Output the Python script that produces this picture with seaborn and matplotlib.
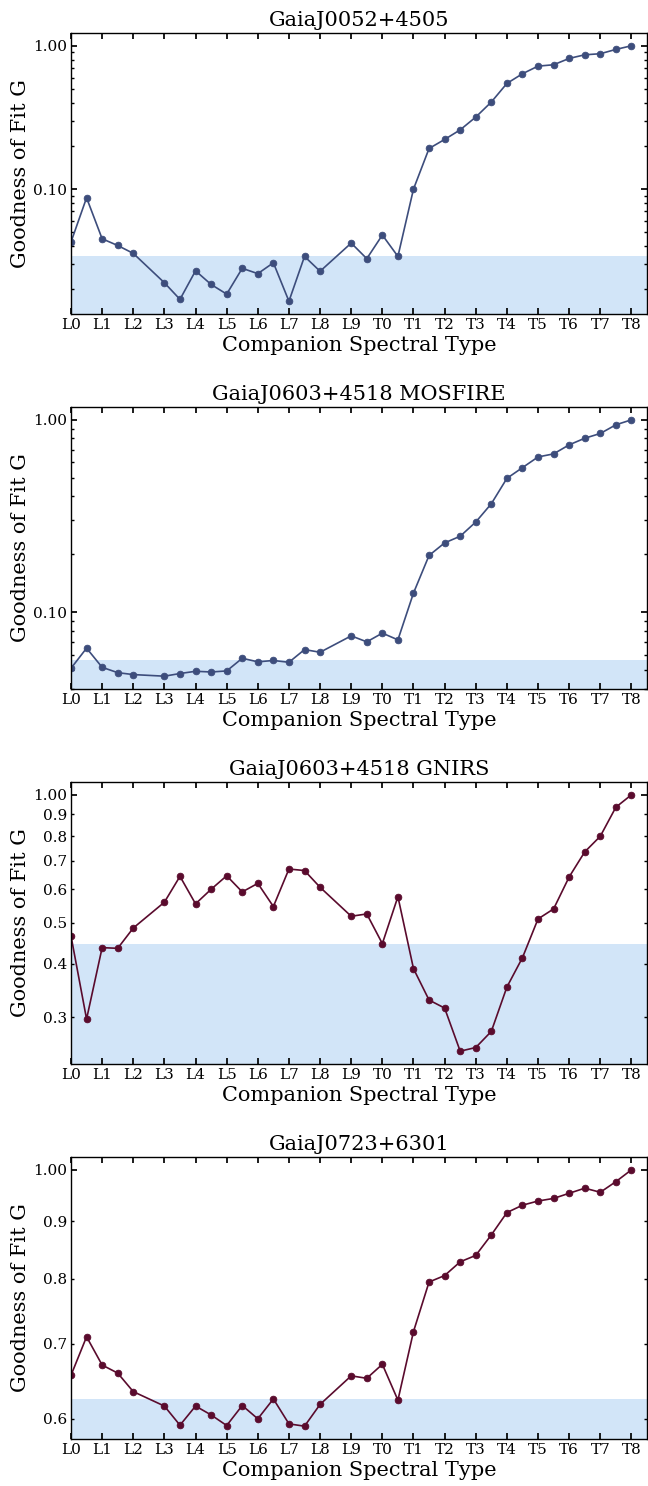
import numpy as np
import pandas as pd
import matplotlib
matplotlib.use("Agg")
import matplotlib.pyplot as plt
import matplotlib.ticker as mticker
import seaborn as sns

# ---------------- data ----------------
spt_num = [0, 0.5, 1, 1.5, 2, 3, 3.5, 4, 4.5, 5, 5.5, 6, 6.5, 7, 7.5, 8,
           9, 9.5, 10, 10.5, 11, 11.5, 12, 12.5, 13, 13.5, 14, 14.5, 15,
           15.5, 16, 16.5, 17, 17.5, 18]
tick_labels = ["L0", "L1", "L2", "L3", "L4", "L5", "L6", "L7", "L8", "L9",
               "T0", "T1", "T2", "T3", "T4", "T5", "T6", "T7", "T8"]

titles = ["GaiaJ0052+4505", "GaiaJ0603+4518 MOSFIRE",
          "GaiaJ0603+4518 GNIRS", "GaiaJ0723+6301"]

g_j0052 = [0.0427, 0.0870, 0.0450, 0.0404, 0.0356, 0.0222, 0.0170, 0.0269,
           0.0216, 0.0185, 0.0280, 0.0257, 0.0306, 0.0165, 0.0339, 0.0267,
           0.0420, 0.0327, 0.0478, 0.0339, 0.100, 0.192, 0.222, 0.259,
           0.318, 0.405, 0.546, 0.638, 0.721, 0.737, 0.816, 0.865, 0.880,
           0.943, 1.00]
g_j0603_mos = [0.0510, 0.0649, 0.0516, 0.0484, 0.0473, 0.0464, 0.0479,
               0.0492, 0.0488, 0.0494, 0.0575, 0.0551, 0.0560, 0.0548,
               0.0638, 0.0618, 0.0752, 0.0700, 0.0777, 0.0717, 0.1256,
               0.197, 0.229, 0.248, 0.294, 0.366, 0.496, 0.564, 0.641,
               0.665, 0.741, 0.802, 0.849, 0.942, 1.00]
g_j0603_gnirs = [0.4655, 0.2968, 0.437, 0.4354, 0.486, 0.559, 0.643, 0.554,
                 0.5995, 0.645, 0.591, 0.619, 0.546, 0.669, 0.6635, 0.606,
                 0.518, 0.5245, 0.4466, 0.576, 0.390, 0.329, 0.315, 0.2494,
                 0.2544, 0.2776, 0.353, 0.4139, 0.5105, 0.539, 0.641, 0.734,
                 0.799, 0.935, 1.00]
g_j0723 = [0.656, 0.710, 0.670, 0.659, 0.6344, 0.6159, 0.5922, 0.6159,
           0.6048, 0.5918, 0.6166, 0.600, 0.625, 0.5938, 0.591, 0.618,
           0.6553, 0.652, 0.671, 0.6234, 0.7176, 0.7944, 0.805, 0.828,
           0.839, 0.875, 0.916, 0.930, 0.938, 0.943, 0.953, 0.963, 0.955,
           0.976, 1.00]

series = [g_j0052, g_j0603_mos, g_j0603_gnirs, g_j0723]
thresholds = [0.0339, 0.0560, 0.4466, 0.6255]
colors = ["#3d4d7c", "#3d4d7c", "#5a0b2d", "#5a0b2d"]
label_minor = [False, False, True, True]

# ---------------- style ----------------
sns.set_theme(style="ticks")
plt.rcParams["font.family"] = ["DejaVu Serif"]
plt.rcParams.update({
    "xtick.direction": "in", "ytick.direction": "in",
    "xtick.top": True, "ytick.right": True,
    "axes.linewidth": 1.0,
    "xtick.major.size": 4, "ytick.major.size": 4, "ytick.minor.size": 2.5,
    "xtick.labelsize": 11, "ytick.labelsize": 11,
    "axes.edgecolor": "black",
    "xtick.color": "black", "ytick.color": "black",
    "text.color": "black", "axes.labelcolor": "black",
})

W, H = 648, 1486
fig = plt.figure(figsize=(W / 100, H / 100), dpi=100)

panel_px = [(33, 314), (407, 689), (782, 1064), (1157, 1439)]
left_px, right_px = 71, 647

for i in range(4):
    top, bot = panel_px[i]
    ax = fig.add_axes([left_px / W, 1 - bot / H, (right_px - left_px) / W,
                       (bot - top) / H])
    df = pd.DataFrame({"spt": spt_num, "G": series[i]})
    sns.lineplot(data=df, x="spt", y="G", ax=ax, color=colors[i],
                 marker="o", markersize=4.8, linewidth=1.2,
                 markeredgecolor=colors[i], markeredgewidth=0.6)
    ax.set_yscale("log")
    ax.autoscale_view()
    ylo, yhi = ax.get_ylim()
    ax.axhspan(ylo * 0.5, thresholds[i], color="#d2e5f8", zorder=0, lw=0)
    ax.set_ylim(ylo, yhi)
    ax.set_xlim(0, 18.5)

    ax.xaxis.set_major_locator(mticker.FixedLocator(list(range(19))))
    ax.set_xticklabels(tick_labels)
    ax.xaxis.set_minor_locator(mticker.NullLocator())

    ax.yaxis.set_major_locator(mticker.LogLocator(base=10, numticks=10))
    ax.yaxis.set_minor_locator(mticker.LogLocator(base=10,
                                                  subs=np.arange(2, 10),
                                                  numticks=20))
    ax.yaxis.set_major_formatter(mticker.FormatStrFormatter("%.2f"))
    if label_minor[i]:
        ax.yaxis.set_minor_formatter(mticker.FormatStrFormatter("%.1f"))
    else:
        ax.yaxis.set_minor_formatter(mticker.NullFormatter())
    ax.tick_params(axis="y", which="minor", labelsize=11)
    ax.tick_params(axis="both", which="both", pad=3)

    ax.set_title(titles[i], fontsize=15, pad=5)
    ax.set_xlabel("Companion Spectral Type", fontsize=15, labelpad=3)
    ax.set_ylabel("Goodness of Fit G", fontsize=15, labelpad=2)

fig.savefig("out.png", dpi=100)
